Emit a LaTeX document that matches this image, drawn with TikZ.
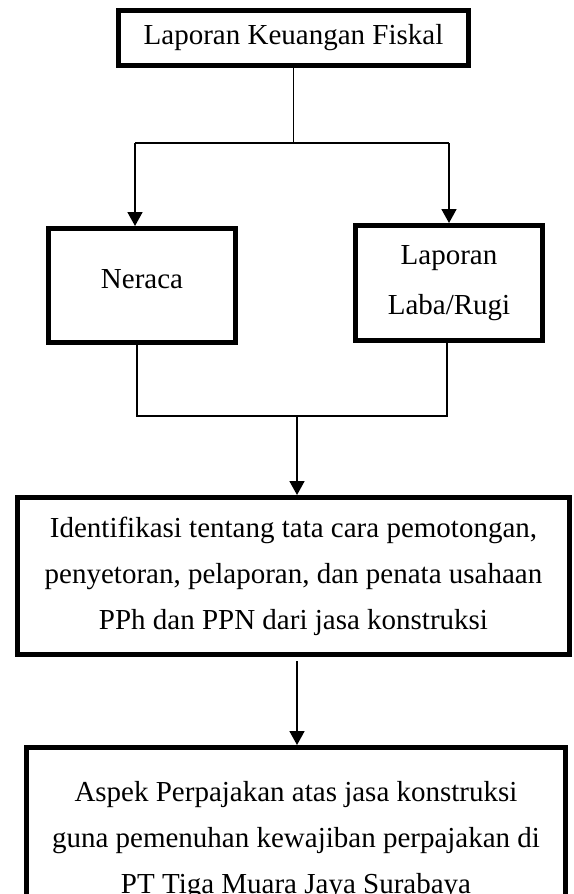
\documentclass[tikz,border=0pt]{standalone}
\usepackage{fontspec}
\setmainfont{Liberation Serif}
\usetikzlibrary{arrows.meta}
\tikzset{
  boxnode/.style={draw, line width=5pt, fill=white, align=center, inner sep=0pt,
    font=\fontsize{29pt}{46pt}\selectfont},
  conn/.style={line width=1.8pt},
  arr/.style={conn, -{Triangle[width=15pt,length=14pt]}},
}
\begin{document}
\begin{tikzpicture}[x=1pt,y=-1pt]
\useasboundingbox (0,0) rectangle (573,894);
\fill[white] (0,0) rectangle (573,894);

\node[boxnode, minimum width=350pt, minimum height=55pt] (top) at (293.5,38) {Laporan Keuangan Fiskal};
\node[boxnode, minimum width=187pt, minimum height=114pt, text height=19pt, text depth=14pt] (ner) at (142,285.5) {Neraca};
\node[boxnode, minimum width=187pt, minimum height=115pt, font=\fontsize{29pt}{50pt}\selectfont] (lab) at (449,283) {Laporan\\Laba/Rugi};
\node[boxnode, minimum width=552pt, minimum height=157pt] (idf) at (293.5,576)
  {Identifikasi tentang tata cara pemotongan,\\penyetoran, pelaporan, dan penata usahaan\\PPh dan PPN dari jasa konstruksi};
\node[boxnode, minimum width=539pt, minimum height=186pt] (bot) at (296,840.5)
  {Aspek Perpajakan atas jasa konstruksi\\guna pemenuhan kewajiban perpajakan di\\PT Tiga Muara Jaya Surabaya};

\coordinate (hl) at (135,143);
\coordinate (hr) at (449,143);
\draw[conn] (top.south) -- (top.south |- hl);
\draw[conn] (hl) -- (hr);
\draw[arr] (hl) -- (hl |- ner.north);
\draw[arr] (hr) -- (hr |- lab.north);

\coordinate (ml) at (137,416);
\coordinate (mr) at (447,416);
\coordinate (mc) at (297,416);
\draw[conn] (ml |- ner.south) -- (ml) -- (mr) -- (mr |- lab.south);
\draw[arr] (mc) -- (mc |- idf.north);

\coordinate (lc) at (297,661);
\draw[arr] (lc) -- (lc |- bot.north);
\end{tikzpicture}
\end{document}
